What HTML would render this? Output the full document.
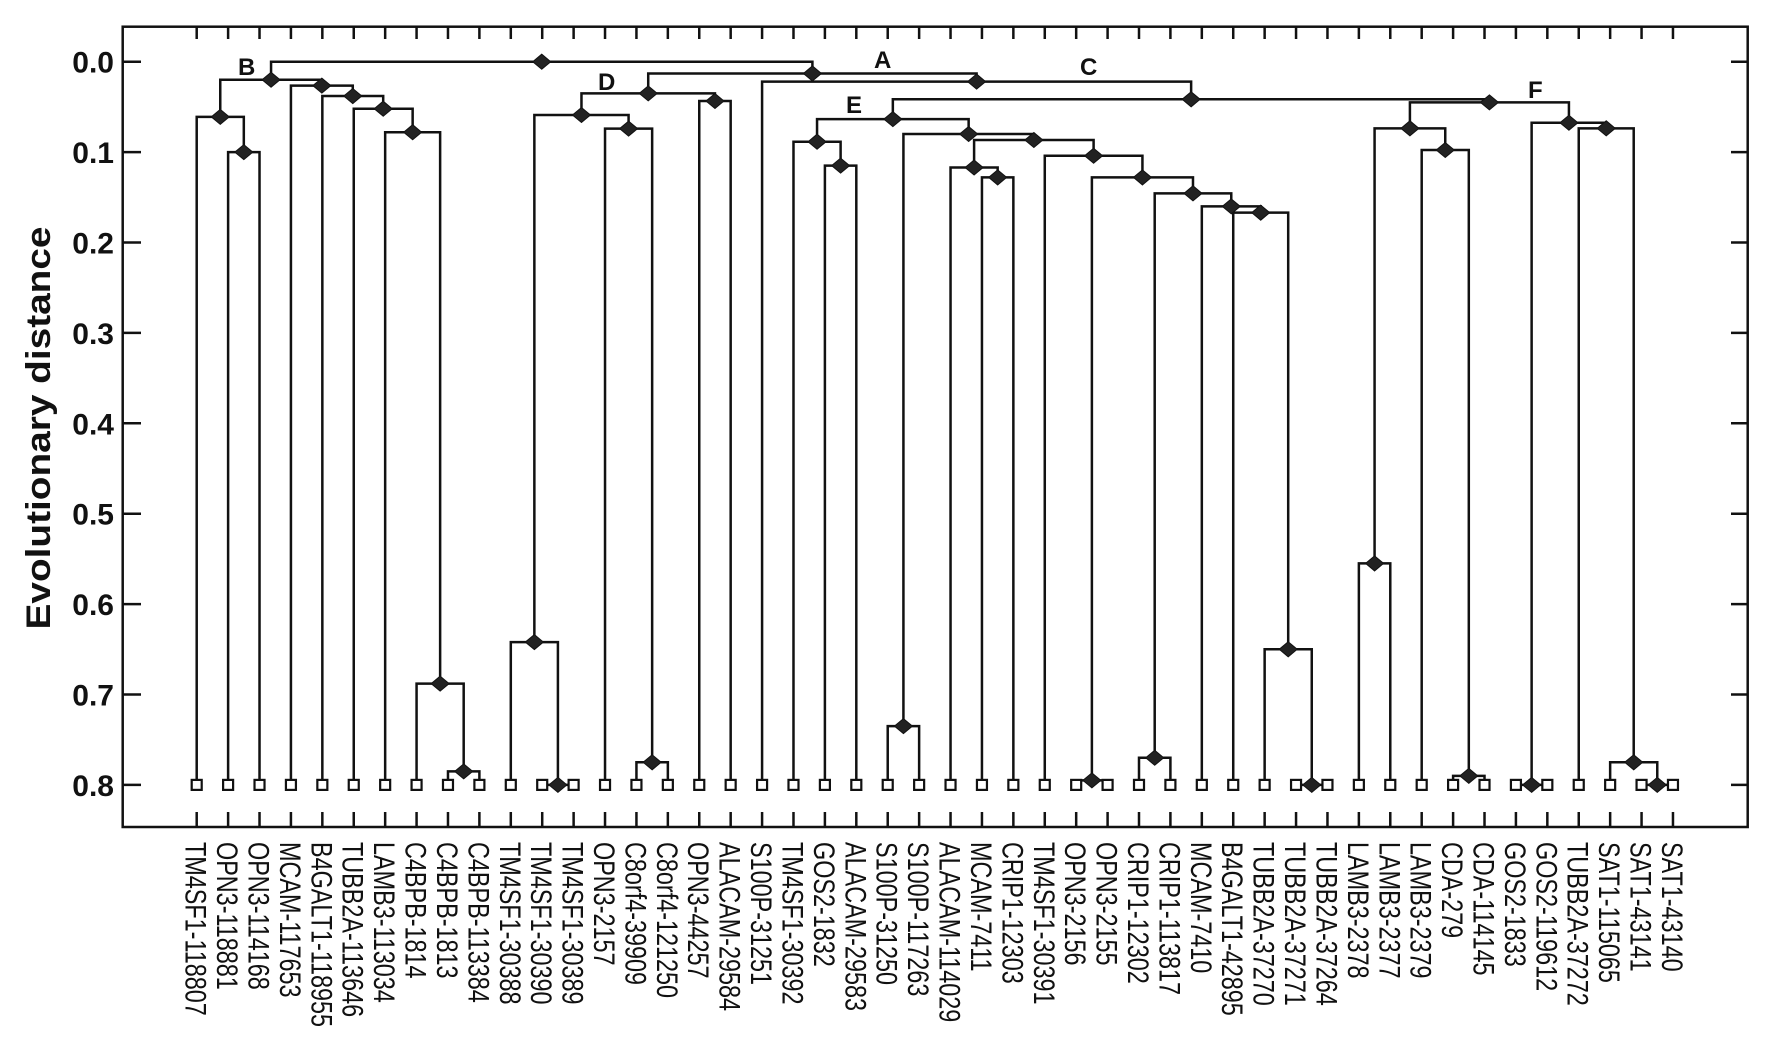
<!DOCTYPE html>
<html><head><meta charset="utf-8"><style>
html,body{margin:0;padding:0;background:#fff;}
svg{display:block;}
</style></head><body>
<svg id="chart" width="1772" height="1054" viewBox="0 0 1772 1054" xmlns="http://www.w3.org/2000/svg">
<rect x="0" y="0" width="1772" height="1054" fill="#fff"/>
<rect x="122.7" y="26.7" width="1625" height="800.3" fill="none" stroke="#111" stroke-width="2.5"/>
<text transform="translate(50,428) rotate(-90)" text-anchor="middle" font-family="Liberation Sans, sans-serif" font-weight="bold" font-size="34" textLength="403" lengthAdjust="spacingAndGlyphs" fill="#111">Evolutionary distance</text>
<g id="axes"></g>
<g id="links"></g>
<g id="leafmarks"></g>
<g id="nodes"></g>
<g id="labels"></g>
<g font-family="Liberation Sans, sans-serif" font-weight="bold" font-size="24" fill="#111">
<text x="238" y="75">B</text>
<text x="598" y="90">D</text>
<text x="874" y="68">A</text>
<text x="846" y="113">E</text>
<text x="1080" y="75">C</text>
<text x="1528" y="98">F</text>
</g>
</svg>
<script>
const leaves = ["TM4SF1-118807","OPN3-118881","OPN3-114168","MCAM-117653","B4GALT1-118955","TUBB2A-113646","LAMB3-113034","C4BPB-1814","C4BPB-1813","C4BPB-113384","TM4SF1-30388","TM4SF1-30390","TM4SF1-30389","OPN3-2157","C8orf4-39909","C8orf4-121250","OPN3-44257","ALACAM-29584","S100P-31251","TM4SF1-30392","GOS2-1832","ALACAM-29583","S100P-31250","S100P-117263","ALACAM-114029","MCAM-7411","CRIP1-12303","TM4SF1-30391","OPN3-2156","OPN3-2155","CRIP1-12302","CRIP1-113817","MCAM-7410","B4GALT1-42895","TUBB2A-37270","TUBB2A-37271","TUBB2A-37264","LAMB3-2378","LAMB3-2377","LAMB3-2379","CDA-279","CDA-114145","GOS2-1833","GOS2-119612","TUBB2A-37272","SAT1-115065","SAT1-43141","SAT1-43140"];
const mergeLeft  = [1,0,8,7,6,5,4,3,49,11,10,14,13,58,16,61,20,19,22,25,24,28,30,35,34,33,32,70,69,27,68,66,65,37,40,39,81,42,46,45,44,85,84,80,18,63,56];
const mergeRight = [2,48,9,50,51,52,53,54,55,12,57,15,59,60,17,62,21,64,23,26,67,29,31,36,71,72,73,74,75,76,77,78,79,38,41,82,83,43,47,86,87,88,89,90,91,92,93];
const mergeHeight = [0.100,0.061,0.785,0.688,0.078,0.052,0.038,0.0265,0.020,0.800,0.642,0.775,0.074,0.059,0.0435,0.035,0.115,0.0885,0.735,0.128,0.117,0.795,0.770,0.800,0.650,0.167,0.160,0.1456,0.128,0.104,0.0866,0.080,0.0635,0.555,0.790,0.0977,0.0737,0.800,0.800,0.775,0.0737,0.0675,0.045,0.0416,0.022,0.013,0.000];
const yTicks = [0.0,0.1,0.2,0.3,0.4,0.5,0.6,0.7,0.8];
const yTickLabels = ["0.0","0.1","0.2","0.3","0.4","0.5","0.6","0.7","0.8"];

const NS = "http://www.w3.org/2000/svg";
const LEAF_D = 0.8;
function xScale(i){ return 196.7 + i*31.41; }
function yScale(d){ return 61.7 + d*904; }
function mk(tag, attrs, parent){
  const el = document.createElementNS(NS, tag);
  for (const k in attrs) el.setAttribute(k, attrs[k]);
  parent.appendChild(el);
  return el;
}
const gAxes = document.getElementById('axes');
const gLinks = document.getElementById('links');
const gLeaf = document.getElementById('leafmarks');
const gNodes = document.getElementById('nodes');
const gLabels = document.getElementById('labels');

// y axis ticks + labels
yTicks.forEach((t,i)=>{
  const y = yScale(t);
  const tl = mk('line',{x1:122.7,x2:141,y1:y,y2:y,stroke:'#111','stroke-width':2.5},gAxes);
  
  
  const tr = mk('line',{x1:1731,x2:1747.7,y1:y,y2:y,stroke:'#111','stroke-width':2.5},gAxes);
  
  
  const lab = mk('text',{x:114,y:y+11,'text-anchor':'end','font-family':'Liberation Sans, sans-serif','font-weight':'bold','font-size':30,fill:'#111'},gAxes);
  lab.textContent = yTickLabels[i];
  
  
});

// node positions
const nx = [], ny = [];
leaves.forEach((_,i)=>{ nx.push(xScale(i)); ny.push(yScale(LEAF_D)); });
mergeLeft.forEach((a,k)=>{
  const b = mergeRight[k];
  nx.push((nx[a]+nx[b])/2);
  ny.push(yScale(mergeHeight[k]));
});

// links
mergeLeft.forEach((a,k)=>{
  const b = mergeRight[k];
  const id = leaves.length + k;
  const y = ny[id];
  const yb = (c)=> c < leaves.length ? yScale(LEAF_D)-5 : ny[c];
  const p = mk('path',{d:`M${nx[a]},${yb(a)} V${y} H${nx[b]} V${yb(b)}`,fill:'none',stroke:'#111','stroke-width':2.5,'stroke-linejoin':'miter'},gLinks);
  
  
});

// leaves: squares, bottom/top ticks, labels
leaves.forEach((name,i)=>{
  const x = xScale(i), y = yScale(LEAF_D);
  const sq = mk('rect',{x:x-5,y:y-5,width:10,height:10,fill:'#fff',stroke:'#111','stroke-width':2.2},gLeaf);
  
  
  const bt = mk('line',{x1:x,x2:x,y1:812,y2:827,stroke:'#111','stroke-width':2.5},gAxes);
  
  
  const tt = mk('line',{x1:x,x2:x,y1:26.7,y2:39,stroke:'#111','stroke-width':2.5},gAxes);
  
  
  const t = mk('text',{transform:`translate(${x},842) rotate(90) scale(0.78,1)`,x:0,y:11,'font-family':'Liberation Sans, sans-serif','font-size':30,fill:'#111'},gLabels);
  t.textContent = name;
  
  
});

// node diamonds
mergeLeft.forEach((a,k)=>{
  const id = leaves.length + k;
  const x = nx[id], y = ny[id];
  const d = mk('path',{d:`M${x-9},${y} L${x},${y-7.5} L${x+9},${y} L${x},${y+7.5} Z`,fill:'#222',stroke:'#111','stroke-width':1},gNodes);
  
  
});
</script>
</body></html>
